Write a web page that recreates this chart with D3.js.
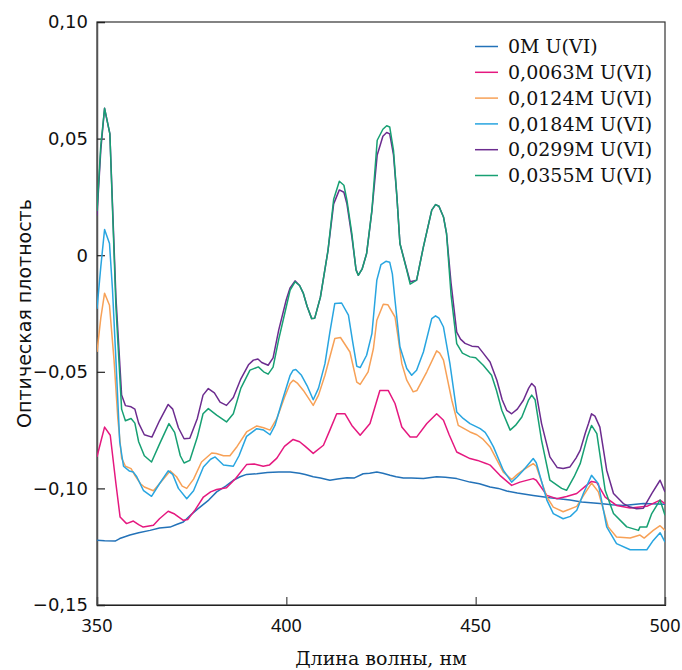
<!DOCTYPE html>
<html>
<head>
<meta charset="utf-8">
<script src="https://cdn.jsdelivr.net/npm/d3@7/dist/d3.min.js"></script>
<style>
body { margin: 0; background: #fff; }
svg { display: block; }
</style>
</head>
<body>
<svg id="chart" width="682" height="670"></svg>
<script>
const seriesNames = ["0M U(VI)", "0,0063M U(VI)", "0,0124M U(VI)", "0,0184M U(VI)", "0,0299M U(VI)", "0,0355M U(VI)"];
const seriesColors = ["#2372b8", "#e5187f", "#f7a157", "#28a5e0", "#6c2c8f", "#17a073"];
const xTicks = [350, 400, 450, 500];
const yTicks = [-0.15, -0.10, -0.05, 0, 0.05, 0.10];

const s0M = [[350,-0.1222],[352,-0.1225],[354.8,-0.1226],[356,-0.1215],[358.7,-0.120],[361,-0.119],[364,-0.118],[366.5,-0.117],[369.3,-0.1166],[371,-0.1155],[372.8,-0.1144],[375,-0.111],[377.2,-0.108],[379.5,-0.105],[381.6,-0.1015],[384,-0.099],[386,-0.0965],[387.8,-0.095],[389.5,-0.094],[392.2,-0.0937],[395,-0.0932],[398,-0.093],[401,-0.093],[403.5,-0.0935],[405,-0.094],[407.1,-0.095],[409,-0.0955],[411.5,-0.0965],[413.5,-0.096],[416,-0.0954],[418,-0.0955],[420.3,-0.0937],[422,-0.0935],[423.9,-0.093],[425.5,-0.0935],[427.4,-0.0944],[429,-0.095],[430.9,-0.0955],[433,-0.0955],[436.2,-0.0958],[439.7,-0.095],[442,-0.0952],[445,-0.0958],[448.5,-0.0973],[451,-0.098],[453.8,-0.0994],[456,-0.1],[458.2,-0.1011],[461,-0.102],[465.2,-0.103],[469.6,-0.104],[474.9,-0.105],[478,-0.1058],[482.8,-0.1065],[486,-0.107],[489,-0.1073],[494.3,-0.1065],[500,-0.1068]];

const s0063 = [[350,-0.0865],[351,-0.080],[352,-0.0737],[353.5,-0.0772],[355,-0.098],[356.1,-0.1123],[357.8,-0.1151],[359.6,-0.114],[361,-0.1155],[362.2,-0.1166],[364.9,-0.1158],[366.5,-0.113],[368.8,-0.1098],[370.5,-0.111],[372.8,-0.1137],[374,-0.1133],[376,-0.109],[378.1,-0.1037],[380,-0.1015],[381.6,-0.1005],[384.2,-0.0997],[386.5,-0.096],[389.5,-0.0898],[391.5,-0.0895],[393.9,-0.0905],[395.5,-0.090],[397.5,-0.087],[399.5,-0.082],[401.8,-0.079],[403.5,-0.080],[405,-0.082],[407.1,-0.085],[409.8,-0.0815],[411.5,-0.075],[413.3,-0.068],[415.5,-0.068],[417.3,-0.073],[419.5,-0.0772],[422.1,-0.0722],[424.7,-0.058],[426.9,-0.058],[428.7,-0.0636],[430.5,-0.0737],[432.7,-0.078],[434.4,-0.078],[437.1,-0.0722],[439.7,-0.068],[441.5,-0.0708],[443,-0.077],[445,-0.0844],[448.5,-0.0872],[450.5,-0.088],[452.9,-0.0894],[453.8,-0.090],[456.4,-0.0944],[459.5,-0.0987],[461.7,-0.0973],[465.2,-0.0958],[466,-0.0965],[468.8,-0.103],[471.4,-0.1044],[474,-0.1035],[476.7,-0.1022],[479,-0.099],[480.6,-0.097],[482,-0.0975],[484.2,-0.1037],[487.2,-0.1073],[490.8,-0.1084],[495.2,-0.1077],[498.7,-0.105],[500,-0.1065]];

const s0124 = [[350,-0.0415],[351,-0.027],[352,-0.0163],[353.3,-0.0215],[354.5,-0.045],[355.5,-0.070],[356.5,-0.087],[357.5,-0.0905],[359,-0.0915],[360,-0.0944],[361.5,-0.098],[362.5,-0.0994],[364.9,-0.101],[367,-0.097],[369.3,-0.0925],[371,-0.095],[372.5,-0.099],[373.7,-0.100],[375.5,-0.096],[377.6,-0.0887],[380.3,-0.0848],[381.5,-0.085],[383.4,-0.086],[385.1,-0.086],[387,-0.082],[389.5,-0.0758],[392.2,-0.0732],[394,-0.074],[395.7,-0.075],[397.5,-0.070],[399.5,-0.061],[401,-0.055],[401.8,-0.0536],[403,-0.055],[404.5,-0.058],[407.1,-0.0644],[408.5,-0.060],[410.2,-0.0515],[412.8,-0.0357],[414.3,-0.0353],[416.8,-0.0415],[418.6,-0.0544],[419.5,-0.0554],[421.6,-0.050],[423,-0.040],[423.9,-0.0279],[425.6,-0.021],[426.8,-0.0212],[428.7,-0.0265],[429.5,-0.035],[430.5,-0.0465],[431.8,-0.0536],[433.5,-0.0586],[434.5,-0.058],[437.1,-0.050],[439.7,-0.041],[440.5,-0.042],[441.5,-0.045],[443.7,-0.0622],[445.4,-0.073],[448.5,-0.0758],[450.3,-0.077],[452,-0.079],[453.8,-0.0822],[457.3,-0.093],[459.5,-0.0962],[461,-0.094],[462.6,-0.092],[465.2,-0.0894],[466,-0.0905],[468.8,-0.1037],[470.5,-0.108],[473.1,-0.110],[476.7,-0.1077],[478.5,-0.103],[480.6,-0.0977],[482.4,-0.1015],[485,-0.1165],[487.2,-0.1208],[490.8,-0.1213],[493.4,-0.120],[494.5,-0.1213],[496.9,-0.118],[498.7,-0.116],[500,-0.118]];

const s0184 = [[350,-0.023],[351,-0.005],[352,0.011],[353.3,0.005],[354.1,-0.015],[355,-0.045],[356,-0.080],[357,-0.0905],[358.5,-0.0925],[359.6,-0.093],[360.5,-0.095],[362.3,-0.101],[364.4,-0.1034],[366.5,-0.098],[368.8,-0.0925],[370,-0.094],[371.5,-0.100],[373.7,-0.1044],[375.5,-0.101],[378.1,-0.0908],[380,-0.0875],[381.2,-0.0865],[383.4,-0.090],[386,-0.0905],[387.5,-0.086],[389.5,-0.0777],[392.2,-0.0744],[394,-0.075],[395.7,-0.077],[397,-0.073],[399,-0.062],[401,-0.0515],[401.8,-0.0493],[402.5,-0.049],[404,-0.0515],[405.5,-0.056],[407.1,-0.062],[408.5,-0.057],[410.2,-0.0465],[411.5,-0.033],[412.8,-0.0207],[414.6,-0.0205],[416.4,-0.0257],[417.5,-0.037],[418.6,-0.0476],[419.5,-0.0482],[421.2,-0.0429],[422.6,-0.0336],[423.9,-0.0107],[425,-0.004],[426.3,-0.0026],[427.3,-0.003],[428,-0.008],[428.7,-0.0193],[430,-0.0393],[431.8,-0.0486],[433.1,-0.0515],[434.4,-0.0493],[436.2,-0.0415],[438.4,-0.0272],[439.4,-0.026],[440.3,-0.027],[441.5,-0.0308],[443.2,-0.0465],[445,-0.0672],[446.7,-0.070],[448.5,-0.0722],[451.2,-0.0744],[452.5,-0.076],[453.3,-0.078],[454.7,-0.0822],[457.3,-0.0922],[459.5,-0.0973],[461,-0.095],[462.6,-0.0922],[465.2,-0.0872],[466,-0.089],[468.8,-0.105],[470.5,-0.1108],[473.1,-0.113],[475,-0.112],[476.7,-0.1094],[478.5,-0.102],[480.6,-0.0944],[482.4,-0.098],[484.6,-0.1165],[487.2,-0.1237],[490.8,-0.1263],[495.2,-0.1263],[496.9,-0.1223],[498.7,-0.119],[500,-0.123]];

const s0299 = [[350,0.017],[351,0.045],[352,0.063],[353.4,0.052],[355,-0.018],[356.5,-0.060],[357.5,-0.0645],[359,-0.065],[360,-0.066],[361,-0.072],[362.5,-0.077],[364.5,-0.078],[366.5,-0.071],[368.8,-0.064],[370,-0.066],[371.5,-0.074],[373,-0.0787],[374.5,-0.0785],[376.5,-0.070],[378,-0.060],[379.4,-0.0572],[381,-0.059],[382.5,-0.063],[384.2,-0.0644],[386,-0.061],[388,-0.053],[390,-0.047],[391.3,-0.045],[392.5,-0.0445],[393.5,-0.046],[395.2,-0.0472],[396.5,-0.044],[398,-0.032],[400,-0.019],[401,-0.014],[402.3,-0.011],[403.5,-0.013],[404.5,-0.0164],[405.5,-0.022],[406.7,-0.0272],[407.5,-0.027],[409,-0.018],[411,0.002],[412.5,0.022],[414,0.028],[415.2,0.027],[416,0.022],[417.3,0.008],[418.4,-0.006],[419,-0.0086],[420,-0.006],[421.2,0.0007],[422.6,0.019],[424,0.043],[425.5,0.051],[426.5,0.0526],[427.3,0.052],[428.3,0.043],[429.2,0.025],[430,0.005],[431.8,-0.006],[432.7,-0.0114],[434.4,-0.0107],[436.2,0.0036],[438.4,0.0193],[439.4,0.0217],[440.3,0.021],[441.5,0.0164],[442.3,0.0094],[443.5,-0.012],[445,-0.033],[446,-0.036],[447.2,-0.0378],[449,-0.039],[450.7,-0.0393],[452,-0.042],[453.8,-0.0458],[455.6,-0.0536],[457,-0.062],[458.2,-0.0665],[459.5,-0.068],[461,-0.066],[462.6,-0.0622],[464,-0.057],[464.8,-0.055],[465.7,-0.0565],[467.4,-0.0722],[469.6,-0.0865],[471.5,-0.091],[473.1,-0.0915],[474.9,-0.0908],[476.5,-0.087],[477.6,-0.0837],[479,-0.076],[479.8,-0.0722],[480.6,-0.068],[481.5,-0.069],[482.8,-0.0737],[484.6,-0.0922],[486.4,-0.1022],[489,-0.1065],[490.8,-0.108],[492.5,-0.1087],[494.3,-0.1085],[496.5,-0.1022],[498.7,-0.0965],[500,-0.1015]];

const s0355 = [[350,0.019],[351,0.047],[352,0.063],[353.4,0.052],[355,-0.022],[356.5,-0.066],[357.5,-0.071],[359,-0.070],[360,-0.072],[361,-0.080],[362.5,-0.086],[364.4,-0.0887],[366.5,-0.081],[369,-0.0722],[370.5,-0.076],[372,-0.086],[373,-0.0891],[374.5,-0.088],[376.5,-0.078],[378,-0.068],[379.4,-0.0658],[381.6,-0.0686],[384.2,-0.0715],[386,-0.068],[388,-0.057],[390.4,-0.0493],[392.6,-0.0479],[394,-0.050],[395.2,-0.051],[396.5,-0.048],[398,-0.036],[400,-0.022],[401,-0.015],[402.3,-0.0114],[403.5,-0.013],[404.5,-0.0164],[405.5,-0.022],[406.7,-0.0272],[407.5,-0.027],[409,-0.018],[411,0.002],[412.5,0.024],[414,0.0317],[415.2,0.030],[416,0.0236],[417.3,0.0093],[418.4,-0.0064],[419,-0.0086],[420,-0.006],[421.2,0.0007],[422.6,0.0193],[424,0.0493],[425.5,0.054],[426.5,0.0555],[427.3,0.055],[428.3,0.045],[429.2,0.025],[430,0.005],[431.8,-0.0064],[432.7,-0.0124],[434.4,-0.0107],[436.2,0.0036],[438.4,0.0193],[439.4,0.0217],[440.3,0.021],[441.5,0.0164],[442.3,0.0094],[443.5,-0.017],[445,-0.0379],[446.5,-0.042],[448.5,-0.0436],[450,-0.044],[452,-0.0472],[454.2,-0.0515],[455.5,-0.058],[456.9,-0.0665],[459.1,-0.075],[460.5,-0.073],[462.2,-0.0694],[464,-0.062],[464.8,-0.060],[465.7,-0.062],[467.4,-0.0794],[469.6,-0.0965],[472.7,-0.100],[474,-0.1008],[476,-0.095],[477.6,-0.0894],[479.5,-0.078],[480.6,-0.073],[482,-0.0765],[484.2,-0.1008],[486.4,-0.1108],[489.9,-0.1165],[493,-0.118],[493.4,-0.1165],[495.2,-0.1165],[496.5,-0.1108],[498.7,-0.105],[500,-0.1115]];

const seriesData = [s0M, s0063, s0124, s0184, s0299, s0355];

const svg = d3.select("#chart");
const L = 97, R = 665, T = 22, B = 605;

const x = d3.scaleLinear().domain([350, 500]).range([L, R]);
const y = d3.scaleLinear().domain([-0.15, 0.10]).range([B, T]);

svg.append("defs").append("clipPath").attr("id", "clip")
  .append("rect").attr("x", L).attr("y", T).attr("width", R - L).attr("height", B - T);

const fmtY = v => {
  if (Math.abs(v) < 1e-9) return "0";
  return d3.format(".2f")(v).replace(".", ",").replace("-", "\u2212");
};

// frame
svg.append("rect").attr("x", L).attr("y", T).attr("width", R - L).attr("height", B - T)
  .attr("fill", "none").attr("stroke", "#333").attr("stroke-width", 1.2);

// y axis (ticks inside)
const yAxis = d3.axisRight(y).tickValues(yTicks).tickSize(8).tickFormat("");
svg.append("g").attr("transform", `translate(${L},0)`).call(yAxis)
  .call(g => g.select(".domain").attr("stroke", "#555").attr("stroke-width", 1.5))
  .call(g => g.selectAll(".tick line").attr("stroke", "#222").attr("stroke-width", 1.2));

svg.append("g").selectAll("text").data(yTicks).join("text")
  .attr("x", L - 9).attr("y", d => y(d)).attr("dy", "0.36em")
  .attr("text-anchor", "end")
  .attr("font-family", "DejaVu Sans").attr("font-size", 18).attr("fill", "#111")
  .text(fmtY);

// x axis (ticks inside)
const xAxis = d3.axisTop(x).tickValues(xTicks).tickSize(8).tickFormat("");
svg.append("g").attr("transform", `translate(0,${B})`).call(xAxis)
  .call(g => g.select(".domain").attr("stroke", "#222").attr("stroke-width", 1.2))
  .call(g => g.selectAll(".tick line").attr("stroke", "#444").attr("stroke-width", 1.2));

svg.append("g").selectAll("text").data(xTicks).join("text")
  .attr("x", d => x(d)).attr("y", 632)
  .attr("text-anchor", "middle")
  .attr("font-family", "Noto Sans").attr("font-size", 18).attr("fill", "#111")
  .text(d => d);

// lines
const line = d3.line().x(d => x(d[0])).y(d => y(d[1]));
svg.append("g").attr("clip-path", "url(#clip)")
  .selectAll("path").data(seriesData).join("path")
  .attr("d", line)
  .attr("fill", "none")
  .attr("stroke", (d, i) => seriesColors[i])
  .attr("stroke-width", 1.5)
  .attr("stroke-linejoin", "round");

// legend
const lg = svg.append("g");
seriesNames.forEach((name, i) => {
  const yy = 46.5 + i * 25.8;
  lg.append("line").attr("x1", 475).attr("x2", 498).attr("y1", yy).attr("y2", yy)
    .attr("stroke", seriesColors[i]).attr("stroke-width", 1.5);
  lg.append("text").attr("x", 508).attr("y", yy).attr("dy", "0.35em")
    .attr("font-family", "DejaVu Serif").attr("font-size", 19).attr("fill", "#111")
    .text(name);
});

// axis titles
svg.append("text")
  .attr("transform", `translate(31,${(T + B) / 2}) rotate(-90)`)
  .attr("text-anchor", "middle")
  .attr("font-family", "DejaVu Sans").attr("font-size", 19).attr("fill", "#111")
  .text("Оптическая плотность");

svg.append("text")
  .attr("x", (L + R) / 2).attr("y", 665)
  .attr("text-anchor", "middle")
  .attr("font-family", "DejaVu Serif").attr("font-size", 19).attr("fill", "#111")
  .text("Длина волны, нм");
</script>
</body>
</html>
